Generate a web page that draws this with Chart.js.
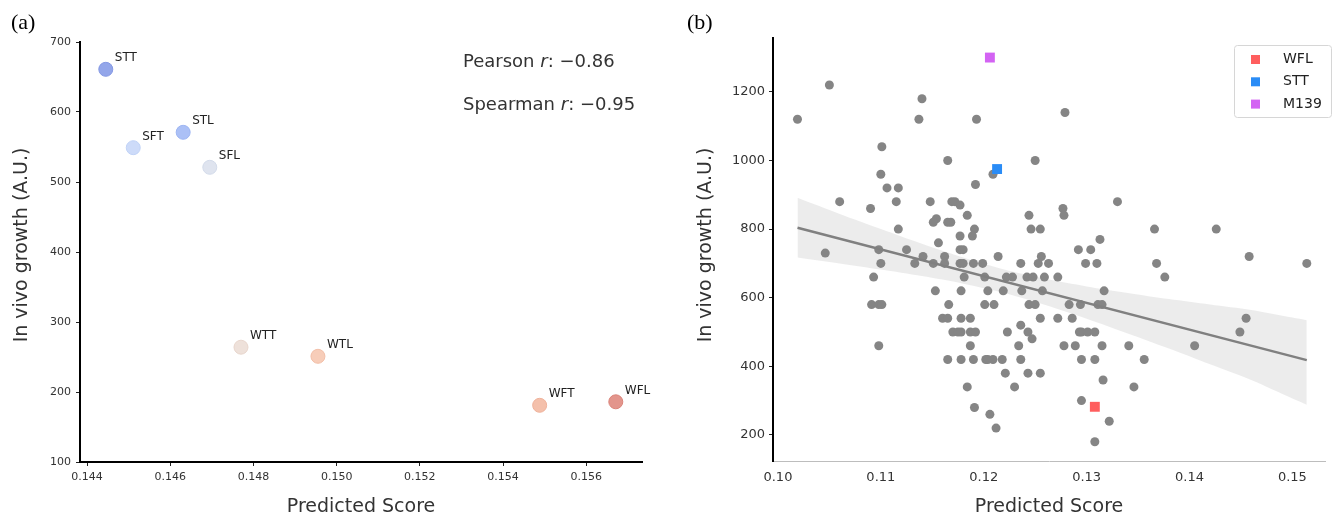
<!DOCTYPE html>
<html>
<head>
<meta charset="utf-8">
<script src="https://cdn.jsdelivr.net/npm/chart.js@4.4.0/dist/chart.umd.min.js"></script>
<style>
  html, body { margin: 0; padding: 0; background: #fff; }
  #wrap { position: relative; width: 1332px; height: 515px; overflow: hidden; }
  #chartA { position: absolute; left: 0; top: 0; }
  #chartB { position: absolute; left: 670px; top: 0; }
</style>
</head>
<body>
<div id="wrap">
  <canvas id="chartA" width="660" height="515"></canvas>
  <canvas id="chartB" width="662" height="515"></canvas>
</div>
<script>
// ---- panel (a): designed variants ----
const variantNames = ['STT', 'SFT', 'STL', 'SFL', 'WTT', 'WTL', 'WFT', 'WFL'];
const variantScores = [0.14445, 0.14511, 0.14631, 0.14695, 0.14770, 0.14955, 0.15488, 0.15671];
const variantGrowth = [661, 549, 571, 521, 264, 251, 181, 186];
const variantColors = ['#93a6ea', '#cddbf9', '#abc0f6', '#dfe4ef', '#eee1da', '#f7cdb9', '#f4c0ab', '#e3958c'];
const variantEdges = ['#8599e4', '#c0d2f6', '#9db5f2', '#d3dbea', '#e8d6cd', '#f2bfa8', '#efb29b', '#da8379'];
const scoreTicksA = [0.144, 0.146, 0.148, 0.150, 0.152, 0.154, 0.156];
const growthTicksA = [100, 200, 300, 400, 500, 600, 700];
const pearsonR = '\u22120.86';
const spearmanR = '\u22120.95';

// ---- panel (b): screened library, one list of scores per growth level ----
const growthLevels = [1220, 1180, 1140, 1120, 1040, 1000, 960, 930, 920, 880, 870, 860, 840, 830, 820, 800,
  780, 770, 760, 740, 730, 720, 700, 660, 620, 580, 540, 520, 500, 480, 460, 420, 380, 360, 340, 300, 280,
  260, 240, 220, 180];
const scoresAtLevel = [
  [0.1050], [0.1140], [0.1279], [0.1019, 0.1137, 0.1193], [0.1101], [0.1165, 0.1250], [0.1100, 0.1209],
  [0.1192], [0.1106, 0.1117], [0.1060, 0.1115, 0.1148, 0.1169, 0.1172, 0.1330], [0.1177], [0.1090, 0.1277],
  [0.1184, 0.1244, 0.1278], [0.1154], [0.1151, 0.1165, 0.1168],
  [0.1117, 0.1191, 0.1246, 0.1255, 0.1366, 0.1426], [0.1177, 0.1189], [0.1313], [0.1156],
  [0.1098, 0.1125, 0.1177, 0.1180, 0.1292, 0.1304], [0.1046], [0.1141, 0.1162, 0.1214, 0.1256, 0.1458],
  [0.1100, 0.1133, 0.1151, 0.1162, 0.1177, 0.1180, 0.1190, 0.1199, 0.1236, 0.1253, 0.1263, 0.1299, 0.1310, 0.1368, 0.1514],
  [0.1093, 0.1181, 0.1201, 0.1222, 0.1228, 0.1242, 0.1248, 0.1259, 0.1272, 0.1376],
  [0.1153, 0.1178, 0.1204, 0.1219, 0.1237, 0.1257, 0.1317],
  [0.1091, 0.1098, 0.1101, 0.1166, 0.1201, 0.1210, 0.1244, 0.1250, 0.1283, 0.1294, 0.1311, 0.1315],
  [0.1160, 0.1165, 0.1178, 0.1187, 0.1255, 0.1272, 0.1286, 0.1455], [0.1236],
  [0.1170, 0.1175, 0.1178, 0.1187, 0.1192, 0.1223, 0.1243, 0.1293, 0.1295, 0.1301, 0.1308, 0.1449], [0.1247],
  [0.1098, 0.1187, 0.1234, 0.1278, 0.1289, 0.1315, 0.1341, 0.1405],
  [0.1165, 0.1178, 0.1190, 0.1202, 0.1204, 0.1209, 0.1218, 0.1236, 0.1295, 0.1308, 0.1356],
  [0.1221, 0.1243, 0.1255], [0.1316], [0.1184, 0.1230, 0.1346], [0.1295], [0.1191], [0.1206], [0.1322],
  [0.1212], [0.1308]
];
const highlightNames = ['WFL', 'STT', 'M139'];
const highlightScores = [0.1308, 0.1213, 0.1206];
const highlightGrowth = [282, 975, 1300];
const highlightColors = ['#ff5e5e', '#2a8cf6', '#d363f3'];

// regression line and its confidence band
const fitScores = [0.1019, 0.1514];
const fitGrowth = [804, 418];
const bandScores = [0.1019, 0.106, 0.110, 0.114, 0.118, 0.122, 0.126, 0.130, 0.134, 0.138, 0.142, 0.146, 0.150, 0.1514];
const bandUpper = [891, 844, 800, 757, 717, 682, 655, 633, 614, 596, 580, 564, 542, 534];
const bandLower = [717, 700, 682, 663, 641, 614, 579, 539, 496, 452, 406, 360, 306, 288];
const scoreTicksB = [0.10, 0.11, 0.12, 0.13, 0.14, 0.15];
const growthTicksB = [200, 400, 600, 800, 1000, 1200];

const SANS = "'DejaVu Sans', sans-serif";
const TXT = '#333';

function drawVerticalTitle(ctx, text, x, y) {
  ctx.save();
  ctx.translate(x, y);
  ctx.rotate(-Math.PI / 2);
  ctx.textAlign = 'center';
  ctx.textBaseline = 'middle';
  ctx.fillText(text, 0, 0);
  ctx.restore();
}

function drawCorr(ctx, label, value, x, y) {
  ctx.textAlign = 'left';
  ctx.textBaseline = 'middle';
  ctx.font = '18px ' + SANS;
  ctx.fillText(label + ' ', x, y);
  x += ctx.measureText(label + ' ').width;
  ctx.font = 'italic 18px ' + SANS;
  ctx.fillText('r', x, y);
  x += ctx.measureText('r').width;
  ctx.font = '18px ' + SANS;
  ctx.fillText(': ' + value, x, y);
}

const textA = {
  id: 'textA',
  afterDatasetsDraw(chart) {
    const ctx = chart.ctx;
    const meta = chart.getDatasetMeta(0);
    ctx.save();
    ctx.fillStyle = '#222';
    ctx.font = '12px ' + SANS;
    ctx.textAlign = 'left';
    ctx.textBaseline = 'middle';
    meta.data.forEach((pt, i) => ctx.fillText(variantNames[i], pt.x + 9, pt.y - 11));

    ctx.fillStyle = TXT;
    drawCorr(ctx, 'Pearson', pearsonR, 463, 62);
    drawCorr(ctx, 'Spearman', spearmanR, 463, 105);

    const area = chart.chartArea;
    ctx.font = '19px ' + SANS;
    ctx.textAlign = 'center';
    ctx.textBaseline = 'middle';
    ctx.fillText('Predicted Score', (area.left + area.right) / 2, 507);
    drawVerticalTitle(ctx, 'In vivo growth (A.U.)', 22, 245);

    ctx.fillStyle = '#000';
    ctx.font = "22px 'Liberation Serif', serif";
    ctx.textAlign = 'left';
    ctx.fillText('(a)', 11, 23);
    ctx.restore();
  }
};

const textB = {
  id: 'textB',
  afterDraw(chart) {
    const ctx = chart.ctx;
    const area = chart.chartArea;
    ctx.save();
    ctx.fillStyle = TXT;
    ctx.font = '19px ' + SANS;
    ctx.textAlign = 'center';
    ctx.textBaseline = 'middle';
    ctx.fillText('Predicted Score', (area.left + area.right) / 2, 507);
    drawVerticalTitle(ctx, 'In vivo growth (A.U.)', 36, 245);

    // legend box in the upper right corner
    const bx = 564, by = 45, bw = 97, bh = 72;
    ctx.beginPath();
    ctx.roundRect(bx + 0.5, by + 0.5, bw, bh, 3);
    ctx.fillStyle = 'rgba(255,255,255,0.85)';
    ctx.fill();
    ctx.strokeStyle = '#d6d6d6';
    ctx.lineWidth = 1;
    ctx.stroke();
    ctx.font = '14px ' + SANS;
    ctx.textAlign = 'left';
    highlightNames.forEach((name, i) => {
      const cy = 59.5 + i * 22.3;
      ctx.fillStyle = highlightColors[i];
      ctx.fillRect(581, cy - 4.5, 9, 9);
      ctx.fillStyle = '#222';
      ctx.fillText(name, 613, cy);
    });

    ctx.fillStyle = '#000';
    ctx.font = "22px 'Liberation Serif', serif";
    ctx.fillText('(b)', 17, 23);
    ctx.restore();
  }
};

new Chart(document.getElementById('chartA'), {
  type: 'scatter',
  data: {
    datasets: [{
      data: variantScores.map((s, i) => ({ x: s, y: variantGrowth[i] })),
      backgroundColor: variantColors,
      borderColor: variantEdges,
      borderWidth: 1,
      pointRadius: 7,
      pointHoverRadius: 7
    }]
  },
  options: {
    responsive: false,
    animation: false,
    devicePixelRatio: 1,
    layout: { padding: { top: 42, right: 18, left: 0, bottom: 0 } },
    plugins: { legend: { display: false }, tooltip: { enabled: false } },
    scales: {
      x: {
        type: 'linear',
        min: 0.14383,
        max: 0.15734,
        afterBuildTicks: s => { s.ticks = scoreTicksA.map(v => ({ value: v })); },
        afterFit: s => { s.height = 53; },
        ticks: { callback: v => v.toFixed(3), autoSkip: false, maxRotation: 0, padding: 5,
                 color: TXT, font: { family: SANS, size: 11 } },
        grid: { drawOnChartArea: false, drawTicks: true, tickLength: 4, color: '#222' },
        border: { display: true, color: '#000', width: 2 }
      },
      y: {
        type: 'linear',
        min: 100,
        max: 700,
        afterBuildTicks: s => { s.ticks = growthTicksA.map(v => ({ value: v })); },
        afterFit: s => { s.width = 80; },
        ticks: { callback: v => String(v), autoSkip: false, padding: 5, color: TXT, font: { family: SANS, size: 11 } },
        grid: { drawOnChartArea: false, drawTicks: true, tickLength: 4, color: '#222' },
        border: { display: true, color: '#000', width: 2 }
      }
    }
  },
  plugins: [textA]
});

const libraryPoints = [];
growthLevels.forEach((g, i) => scoresAtLevel[i].forEach(s => libraryPoints.push({ x: s, y: g })));

new Chart(document.getElementById('chartB'), {
  type: 'scatter',
  data: {
    datasets: [
      {
        data: bandScores.map((s, i) => ({ x: s, y: bandUpper[i] })),
        showLine: true, borderWidth: 0, pointRadius: 0, tension: 0.3,
        fill: '+1', backgroundColor: 'rgba(200,200,200,0.35)', order: 5
      },
      {
        data: bandScores.map((s, i) => ({ x: s, y: bandLower[i] })),
        showLine: true, borderWidth: 0, pointRadius: 0, tension: 0.3,
        fill: false, order: 5
      },
      {
        data: libraryPoints,
        backgroundColor: '#858585', borderWidth: 0,
        pointRadius: 4.5, pointHoverRadius: 4.5, order: 4
      },
      {
        data: fitScores.map((s, i) => ({ x: s, y: fitGrowth[i] })),
        showLine: true, borderColor: '#808080', borderWidth: 2.5, pointRadius: 0, order: 3
      },
      {
        data: highlightScores.map((s, i) => ({ x: s, y: highlightGrowth[i] })),
        pointStyle: 'rect', backgroundColor: highlightColors, borderColor: highlightColors,
        borderWidth: 0, pointRadius: 7, pointHoverRadius: 7, order: 1
      }
    ]
  },
  options: {
    responsive: false,
    animation: false,
    devicePixelRatio: 1,
    layout: { padding: { top: 38, right: 1, left: 0, bottom: 0 } },
    plugins: { legend: { display: false }, tooltip: { enabled: false } },
    scales: {
      x: {
        type: 'linear',
        min: 0.09952,
        max: 0.15317,
        afterBuildTicks: s => { s.ticks = scoreTicksB.map(v => ({ value: v })); },
        afterFit: s => { s.height = 54; },
        ticks: { callback: v => v.toFixed(2), autoSkip: false, maxRotation: 0, padding: 9,
                 color: TXT, font: { family: SANS, size: 13 } },
        grid: { drawOnChartArea: false, drawTicks: false },
        border: { display: true, color: '#bdbdbd', width: 1 }
      },
      y: {
        type: 'linear',
        min: 124,
        max: 1357,
        afterBuildTicks: s => { s.ticks = growthTicksB.map(v => ({ value: v })); },
        afterFit: s => { s.width = 103; },
        ticks: { callback: v => String(v), autoSkip: false, padding: 4, color: TXT, font: { family: SANS, size: 13 } },
        grid: { drawOnChartArea: false, drawTicks: true, tickLength: 4, color: '#222' },
        border: { display: true, color: '#000', width: 2 }
      }
    }
  },
  plugins: [textB]
});
</script>
</body>
</html>
